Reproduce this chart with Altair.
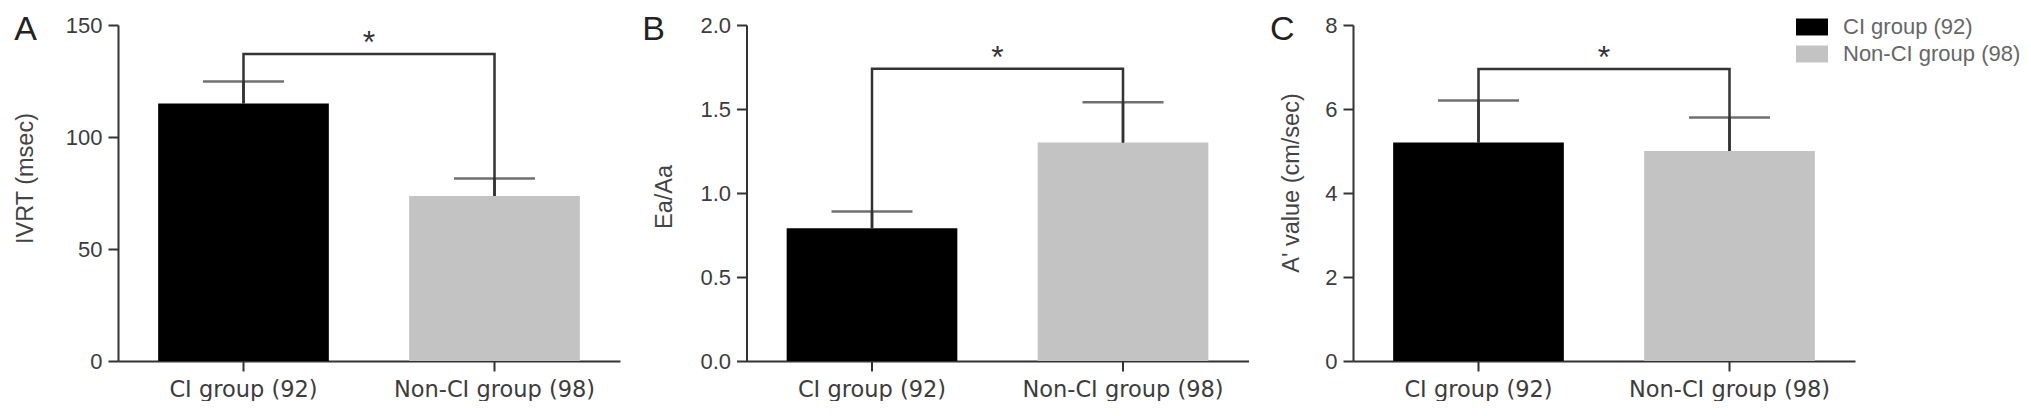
import altair as alt
import pandas as pd

# ---- data ----
groups = ["CI group (92)", "Non-CI group (98)"]
ivrt_mean = [115.0, 73.7]
ivrt_sd = [9.8, 7.8]
eaaa_mean = [0.79, 1.30]
eaaa_sd = [0.10, 0.24]
aprime_mean = [5.2, 5.0]
aprime_sd = [1.0, 0.8]
bracket_level = [137.0, 1.74, 6.95]
panel_letters = ["A", "B", "C"]
y_titles = ["IVRT (msec)", "Ea/Aa", "A' value (cm/sec)"]
y_ticks = [[0, 50, 100, 150], [0.0, 0.5, 1.0, 1.5, 2.0], [0, 2, 4, 6, 8]]
y_formats = ["d", ".1f", "d"]
sig_mark = "*"
bar_colors = ["#000000", "#c3c3c3"]

# ---- styling / layout ----
W, H = 502, 336
P_IN, P_OUT = 0.32, 0.16
STEP = W / (2 - P_IN + 2 * P_OUT)
LINE = "#333333"
AX = "#3c3c3c"
ARIAL = "Liberation Sans, Arial, sans-serif"
letter_x = [-103.8, -104.3, -83.0]
title_x = [-86.0, -75.5, -55.0]
title_y = [153.0, 171.5, 157.5]


def panel(i, means, sds, show_legend):
    df = pd.DataFrame({
        "group": groups,
        "mean": means,
        "upper": [m + s for m, s in zip(means, sds)],
    })
    br = bracket_level[i]
    yscale = alt.Scale(domain=[0, y_ticks[i][-1]], nice=False)
    xscale = alt.Scale(paddingInner=P_IN, paddingOuter=P_OUT)
    yaxis = alt.Axis(
        title=y_titles[i], values=y_ticks[i], format=y_formats[i],
        titleX=title_x[i], titleY=title_y[i], titleAngle=270,
        titleBaseline="alphabetic", titleAlign="center",
    )
    xaxis = alt.Axis(title=None, labelAngle=0, labelLimit=0)

    def X(**kw):
        return alt.X("group:N", sort=groups, scale=xscale, axis=xaxis, **kw)

    def Y(field):
        return alt.Y(field, scale=yscale, axis=yaxis)

    if show_legend:
        leg = alt.Legend(
            orient="none", legendX=443, legendY=-14, title=None,
            symbolType="M-1,-0.53H1V0.53H-1Z", symbolSize=1024,
            symbolStrokeWidth=0, symbolOpacity=1,
            labelFont=ARIAL, labelFontSize=22, labelColor="#666666",
            labelOffset=15, rowPadding=-2, padding=0, labelLimit=0,
        )
    else:
        leg = None

    bars = alt.Chart(df).mark_bar().encode(
        x=X(), y=Y("mean:Q"),
        color=alt.Color("group:N", scale=alt.Scale(domain=groups, range=bar_colors), legend=leg),
    )
    err = alt.Chart(df).mark_rule(color=LINE, strokeWidth=2.5).encode(
        x=X(), y=Y("mean:Q"), y2="upper:Q"
    )
    caps = alt.Chart(df).mark_tick(color=LINE, thickness=2.5, size=81).encode(
        x=X(), y=Y("upper:Q")
    )
    br_df = pd.DataFrame({
        "group": [groups[0], groups[0], groups[1], groups[1]],
        "y": [means[0], br, br, means[1]],
        "o": [0, 1, 2, 3],
    })
    bracket = alt.Chart(br_df).mark_line(color=LINE, strokeWidth=2.5, strokeJoin="miter").encode(
        x=X(), y=Y("y:Q"), order="o:Q"
    )
    star_df = pd.DataFrame({"group": [groups[0]], "y": [br], "t": [sig_mark]})
    star = alt.Chart(star_df).mark_text(
        font=ARIAL, fontSize=32, color=LINE, baseline="alphabetic", dy=-1,
        dx=STEP * P_IN / 2,
    ).encode(x=X(bandPosition=1), y=Y("y:Q"), text="t:N")
    letter = alt.Chart(pd.DataFrame({"t": [panel_letters[i]]})).mark_text(
        align="left", baseline="alphabetic", fontSize=34, font=ARIAL, color="#222222"
    ).encode(x=alt.value(letter_x[i]), y=alt.value(14.5), text="t:N")
    return alt.layer(bars, err, caps, bracket, star, letter).properties(width=W, height=H)


pA = panel(0, ivrt_mean, ivrt_sd, False)
pB = panel(1, eaaa_mean, eaaa_sd, False)
pC = panel(2, aprime_mean, aprime_sd, True)

chart = (
    alt.hconcat(pA, pB, pC, spacing=21.5)
    .resolve_scale(color="independent")
    .properties(padding={"left": 5, "top": 3, "right": 0, "bottom": 0})
    .configure_view(stroke=None)
    .configure_axis(
        domainColor=LINE, domainWidth=2, tickColor=LINE, tickWidth=2,
        tickSize=10, grid=False, labelColor=AX, titleColor="#444444",
        titleFont=ARIAL, titleFontSize=23.5, titleFontWeight="normal",
    )
    .configure_axisY(labelFont=ARIAL, labelFontSize=22, labelPadding=6)
    .configure_axisX(labelFont="DejaVu Sans", labelFontSize=22.5, labelPadding=7)
)

chart.save("out.html", embed_options={"renderer": "svg", "actions": False})
